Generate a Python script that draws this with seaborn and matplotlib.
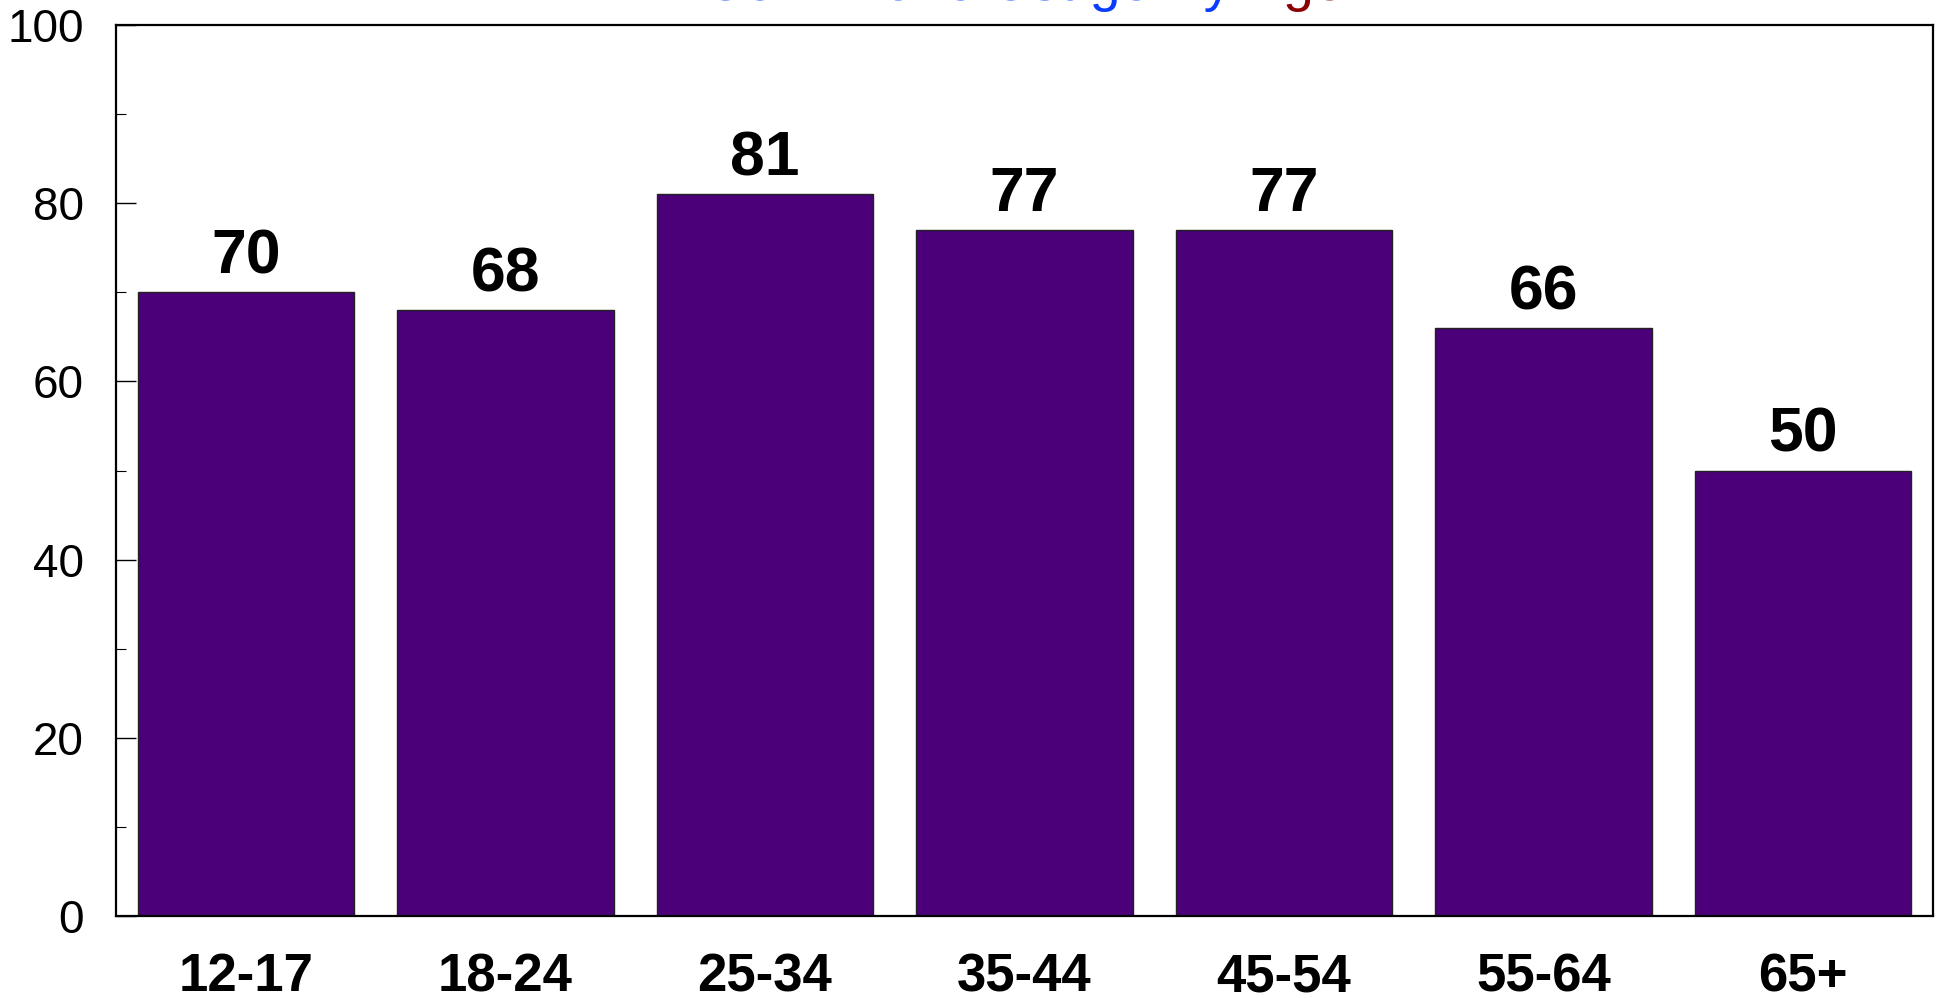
import matplotlib
matplotlib.use("Agg")
import matplotlib.pyplot as plt
import seaborn as sns
import pandas as pd
from matplotlib.ticker import MultipleLocator

categories = ["12-17", "18-24", "25-34", "35-44", "45-54", "55-64", "65+"]
values = [70, 68, 81, 77, 77, 66, 50]
title_main = "Cell Phone Usage By "
title_accent = "Age"

sns.set_theme(style="white")
plt.rcParams["font.family"] = ["Liberation Sans", "DejaVu Sans"]

df = pd.DataFrame({"age": categories, "pct": values})

fig = plt.figure(figsize=(19.38, 9.98), dpi=100)
ax = fig.add_axes([116/1938, 1 - 916/998, (1933-116)/1938, (916-25)/998])

sns.barplot(data=df, x="age", y="pct", color="#4B0079", saturation=1,
            width=0.834, edgecolor="#222222", linewidth=1.0, ax=ax)

ax.set_ylim(0, 100)
ax.set_xlim(-0.5, len(categories) - 0.5)
ax.set_xlabel("")
ax.set_ylabel("")
ax.yaxis.set_major_locator(MultipleLocator(20))
ax.yaxis.set_minor_locator(MultipleLocator(10))

for s in ax.spines.values():
    s.set_color("black")
    s.set_linewidth(1.6)
    s.set_visible(True)

ax.tick_params(axis="y", which="major", direction="in", length=14.5, width=1.0,
               color="black", left=True, labelsize=33, pad=23, labelcolor="black")
ax.tick_params(axis="y", which="minor", direction="in", length=7.5, width=0.8,
               color="black", left=True)
ax.tick_params(axis="x", which="major", direction="in", length=15, width=1.0,
               color="black", bottom=True, labelsize=38, pad=26, labelcolor="black")
for lab in ax.get_xticklabels():
    lab.set_fontweight("bold")

for c in ax.containers:
    ax.bar_label(c, labels=[str(v) for v in values], padding=4,
                 fontsize=45, fontweight="bold", color="black")

# Two-colour title, baseline at the figure top, centred on the axes
fig.canvas.draw()
r = fig.canvas.get_renderer()
t1 = fig.text(0, 1.0, title_main, fontsize=40, color="#0A3CFF", va="baseline", ha="left")
t2 = fig.text(0, 1.0, title_accent, fontsize=40, color="#8B0000", va="baseline", ha="left")
w1 = t1.get_window_extent(r).width
w2 = t2.get_window_extent(r).width
cx = (116 + 1933) / 2
x0 = cx - (w1 + w2) / 2
t1.set_x(x0 / 1938)
t2.set_x((x0 + w1) / 1938)

fig.savefig("out.png", dpi=100)
